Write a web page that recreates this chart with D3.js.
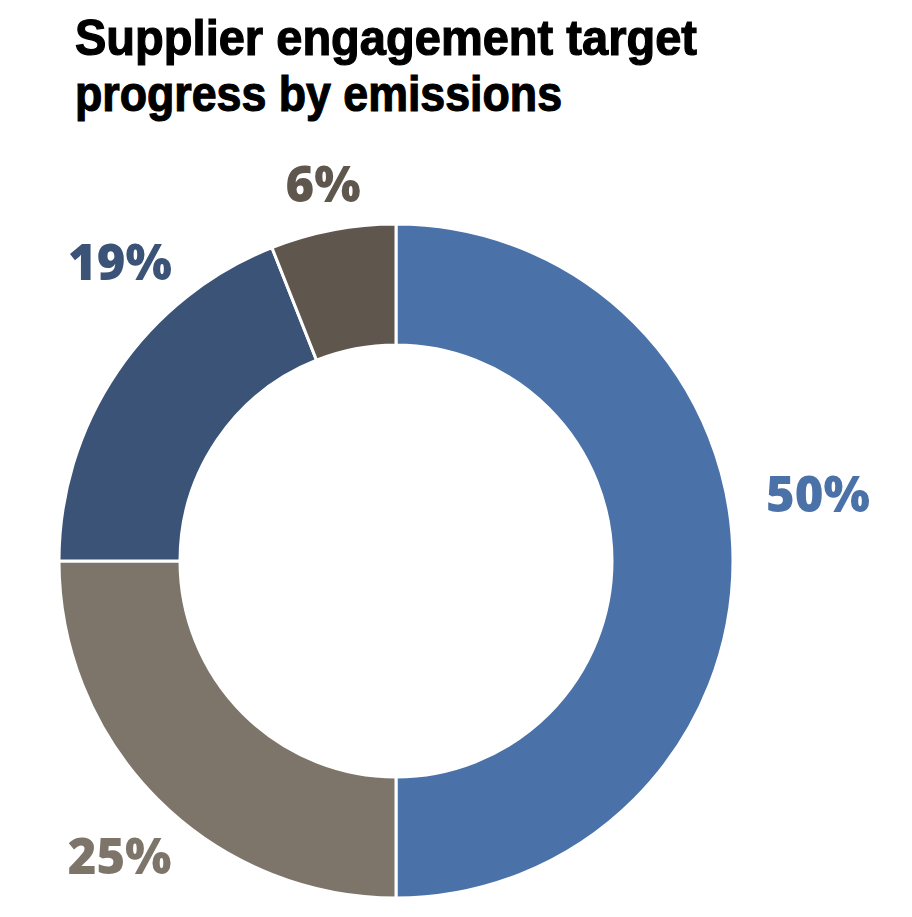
<!DOCTYPE html>
<html>
<head>
<meta charset="utf-8">
<script src="https://cdn.jsdelivr.net/npm/d3@7"></script>
<style>
  body { margin: 0; background: #fff; }
  svg { display: block; }
</style>
</head>
<body>
<div id="chart"></div>
<script>
const titleLines = ['Supplier engagement target', 'progress by emissions'];
const categories = ['A', 'B', 'C', 'D'];
const shares = [50, 25, 19, 6];
const colors = ['#4A71A8', '#7D756A', '#3A5377', '#5F574D'];

const width = 912;
const height = 917;
const cx = 396;
const cy = 561;
const outerR = 337;
const innerR = 216;
// nudges for label placement relative to the label arc centroid
const labelNudge = [[17, -66], [10, 9], [59, -71], [3, 22]];

const svg = d3.select('#chart')
    .append('svg')
    .attr('width', width)
    .attr('height', height);

const title = svg.append('text')
    .attr('font-family', 'Liberation Sans Narrow, Liberation Sans, sans-serif')
    .attr('font-weight', 700)
    .attr('font-size', '50px')
    .attr('fill', '#000')
    .attr('stroke', '#000')
    .attr('stroke-width', 1.2);

title.selectAll('tspan')
    .data(titleLines)
    .enter().append('tspan')
    .attr('x', 75)
    .attr('y', (d, i) => 55 + i * 56)
    .attr('textLength', (d, i) => i === 0 ? 622 : 487)
    .attr('lengthAdjust', 'spacingAndGlyphs')
    .text(d => d);

const data = categories.map((c, i) => ({name: c, value: shares[i]}));

const pie = d3.pie()
    .value(d => d.value)
    .sort(null);

const arc = d3.arc()
    .outerRadius(outerR)
    .innerRadius(innerR);

const labelArc = d3.arc()
    .outerRadius(405)
    .innerRadius(405);

const g = svg.append('g')
    .attr('transform', `translate(${cx},${cy})`);

g.selectAll('path')
    .data(pie(data))
    .enter().append('path')
    .attr('d', arc)
    .attr('fill', (d, i) => colors[i])
    .attr('stroke', '#fff')
    .attr('stroke-width', 3)
    .attr('stroke-linejoin', 'miter');

g.selectAll('.lbl')
    .data(pie(data))
    .enter().append('text')
    .attr('class', 'lbl')
    .attr('transform', (d, i) => {
      const c = labelArc.centroid(d);
      return `translate(${c[0] + labelNudge[i][0]},${c[1] + labelNudge[i][1]})`;
    })
    .attr('dy', '0.35em')
    .attr('text-anchor', 'middle')
    .attr('font-family', 'Open Sans, sans-serif')
    .attr('font-weight', 800)
    .attr('font-size', '49px')
    .attr('fill', (d, i) => colors[i])
    .text(d => d.data.value + '%');
</script>
</body>
</html>
